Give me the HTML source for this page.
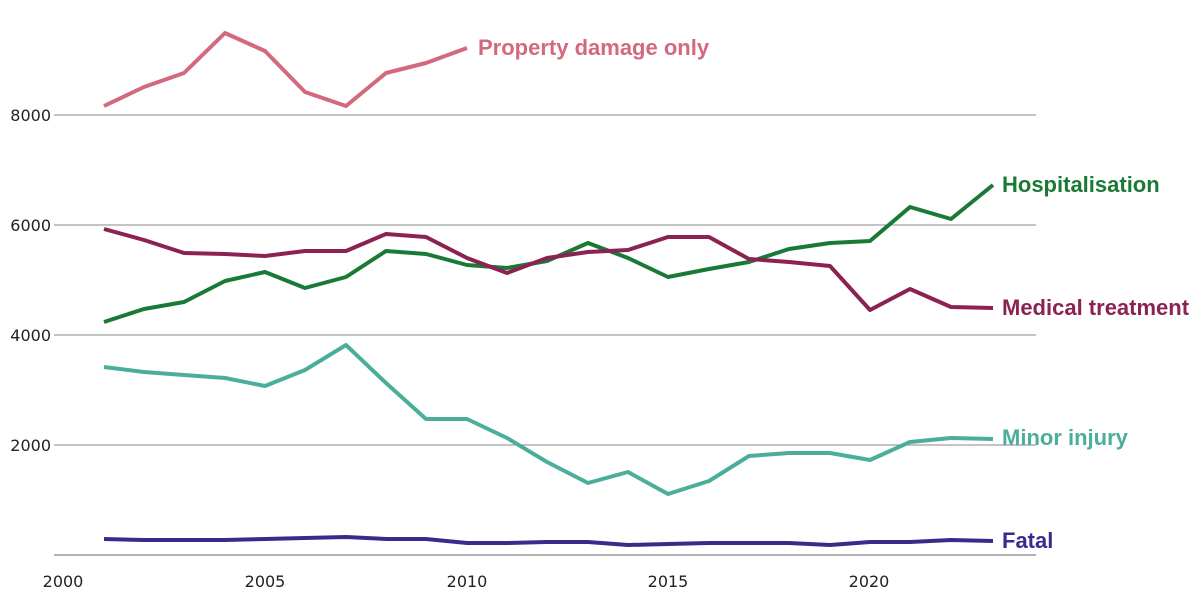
<!DOCTYPE html>
<html><head><meta charset="utf-8"><style>
html,body{margin:0;padding:0;background:#fff;}
svg{display:block;font-family:"Liberation Sans",sans-serif;}
.t{font-size:16px;fill:#222;font-family:"DejaVu Sans",sans-serif;}
.l{font-size:22px;font-weight:bold;}
</style></head><body>
<svg width="1200" height="598" viewBox="0 0 1200 598">
<g stroke="#888" stroke-width="1">
<line x1="54" x2="1036" y1="115" y2="115"/>
<line x1="54" x2="1036" y1="225" y2="225"/>
<line x1="54" x2="1036" y1="335" y2="335"/>
<line x1="54" x2="1036" y1="445" y2="445"/>
<line x1="54" x2="1036" y1="555" y2="555" stroke="#666"/>
</g>
<g class="t" text-anchor="end">
<text x="51" y="121">8000</text><text x="51" y="231">6000</text>
<text x="51" y="341">4000</text><text x="51" y="451">2000</text>
</g>
<g class="t" text-anchor="middle">
<text x="63" y="587">2000</text><text x="265" y="587">2005</text>
<text x="467" y="587">2010</text><text x="668" y="587">2015</text>
<text x="869" y="587">2020</text>
</g>
<g fill="none" stroke-width="4" stroke-linejoin="round" stroke-linecap="butt">
<polyline stroke="#d4697e" points="104,106 144,87 184,73 225,33 265,51 305,92 346,106 386,73 426,63 467,48"/>
<polyline stroke="#1a7a35" points="104,322 144,309 184,302 225,281 265,272 305,288 346,277 386,251 426,254 467,265 507,268 547,261 588,243 628,258 668,277 709,269 749,262 789,249 830,243 870,241 910,207 951,219 993,185"/>
<polyline stroke="#8b2252" points="104,229 144,240 184,253 225,254 265,256 305,251 346,251 386,234 426,237 467,258 507,273 547,258 588,252 628,250 668,237 709,237 749,259 789,262 830,266 870,310 910,289 951,307 993,308"/>
<polyline stroke="#4bae9b" points="104,367 144,372 184,375 225,378 265,386 305,370 346,345 386,383 426,419 467,419 507,438 547,462 588,483 628,472 668,494 709,481 749,456 789,453 830,453 870,460 910,442 951,438 993,439"/>
<polyline stroke="#3b2a8c" points="104,539 144,540 184,540 225,540 265,539 305,538 346,537 386,539 426,539 467,543 507,543 547,542 588,542 628,545 668,544 709,543 749,543 789,543 830,545 870,542 910,542 951,540 993,541"/>
</g>
<text class="l" x="478" y="55" fill="#d4697e">Property damage only</text>
<text class="l" x="1002" y="192" fill="#1a7a35">Hospitalisation</text>
<text class="l" x="1002" y="315" fill="#8b2252">Medical treatment</text>
<text class="l" x="1002" y="445" fill="#4bae9b">Minor injury</text>
<text class="l" x="1002" y="548" fill="#3b2a8c">Fatal</text>
</svg>
</body></html>
